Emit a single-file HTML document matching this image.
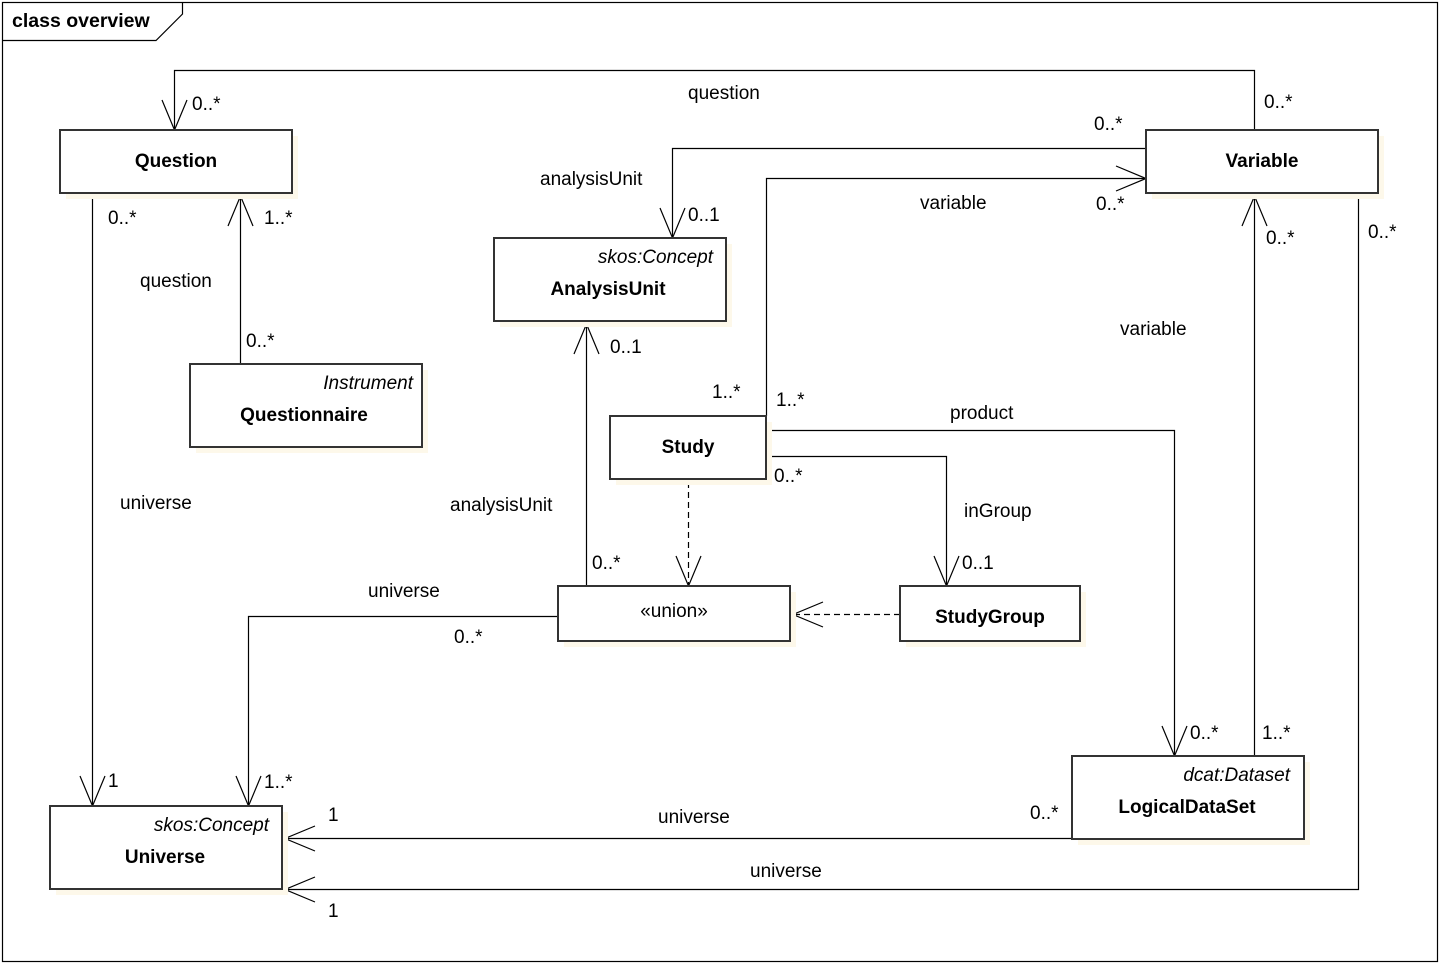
<!DOCTYPE html>
<html><head><meta charset="utf-8"><style>
html,body{margin:0;padding:0;background:#fff;}
svg{display:block;}
text{font-family:"Liberation Sans",Arial,sans-serif;font-size:19px;fill:#000;}
.b{font-weight:bold;}
.i{font-style:italic;}
.box{fill:#fff;stroke:#333;stroke-width:2;}
.sh{fill:#fdf8ea;}
.l{fill:none;stroke:#000;stroke-width:1.2;}
.d{fill:none;stroke:#000;stroke-width:1.2;stroke-dasharray:6,4;}
</style></head><body>
<svg width="1440" height="964" viewBox="0 0 1440 964">
<rect x="2.5" y="2.5" width="1435" height="959" fill="#fff" stroke="#000" stroke-width="1.2"/>
<path class="l" d="M2.5 40.5 H156 L182.5 14 V2.5"/>
<text x="12" y="27" class="b" style="font-size:19.5px">class overview</text>

<!-- connectors -->
<path class="l" d="M1254.5 130 V70.5 H174.5 V130"/>
<path class="l" d="M162 100 L174.5 130 L187 100"/>
<path class="l" d="M1146 148.5 H672.5 V238"/>
<path class="l" d="M660 208 L672.5 238 L685 208"/>
<path class="l" d="M766.5 416 V178.5 H1146"/>
<path class="l" d="M1116 166 L1146 178.5 L1116 191"/>
<path class="l" d="M92.5 193 V806"/>
<path class="l" d="M80 776 L92.5 806 L105 776"/>
<path class="l" d="M240.5 364 V196"/>
<path class="l" d="M228 226 L240.5 196 L253 226"/>
<path class="l" d="M586.5 586 V324"/>
<path class="l" d="M574 354 L586.5 324 L599 354"/>
<path class="l" d="M766 430.5 H1174.5 V756"/>
<path class="l" d="M1162 726 L1174.5 756 L1187 726"/>
<path class="l" d="M766 456.5 H946.5 V586"/>
<path class="l" d="M934 556 L946.5 586 L959 556"/>
<path class="d" d="M688.5 482 V586"/>
<path class="l" d="M676 556 L688.5 586 L701 556"/>
<path class="d" d="M900 614.5 H793"/>
<path class="l" d="M823 602 L793 614.5 L823 627"/>
<path class="l" d="M558 616.5 H248.5 V806"/>
<path class="l" d="M236 776 L248.5 806 L261 776"/>
<path class="l" d="M1254.5 756 V196"/>
<path class="l" d="M1242 226 L1254.5 196 L1267 226"/>
<path class="l" d="M1072 838.5 H285"/>
<path class="l" d="M315 826 L285 838.5 L315 851"/>
<path class="l" d="M1358.5 193 V889.5 H285"/>
<path class="l" d="M315 877 L285 889.5 L315 902"/>

<!-- boxes -->
<g>
<rect class="sh" x="66" y="136" width="232" height="63"/>
<rect class="box" x="60" y="130" width="232" height="63"/>
<text x="176" y="167" class="b" text-anchor="middle">Question</text>

<rect class="sh" x="1152" y="136" width="232" height="63"/>
<rect class="box" x="1146" y="130" width="232" height="63"/>
<text x="1262" y="167" class="b" text-anchor="middle">Variable</text>

<rect class="sh" x="500" y="244" width="232" height="83"/>
<rect class="box" x="494" y="238" width="232" height="83"/>
<text x="713" y="263" class="i" text-anchor="end">skos:Concept</text>
<text x="608" y="295" class="b" text-anchor="middle">AnalysisUnit</text>

<rect class="sh" x="196" y="370" width="232" height="83"/>
<rect class="box" x="190" y="364" width="232" height="83"/>
<text x="413" y="389" class="i" text-anchor="end">Instrument</text>
<text x="304" y="421" class="b" text-anchor="middle">Questionnaire</text>

<rect class="sh" x="616" y="422" width="156" height="63"/>
<rect class="box" x="610" y="416" width="156" height="63"/>
<text x="688" y="453" class="b" text-anchor="middle">Study</text>

<rect class="sh" x="564" y="592" width="232" height="55"/>
<rect class="box" x="558" y="586" width="232" height="55"/>
<text x="674" y="617" text-anchor="middle">«union»</text>

<rect class="sh" x="906" y="592" width="180" height="55"/>
<rect class="box" x="900" y="586" width="180" height="55"/>
<text x="990" y="623" class="b" text-anchor="middle">StudyGroup</text>

<rect class="sh" x="1078" y="762" width="232" height="83"/>
<rect class="box" x="1072" y="756" width="232" height="83"/>
<text x="1290" y="781" class="i" text-anchor="end">dcat:Dataset</text>
<text x="1187" y="813" class="b" text-anchor="middle">LogicalDataSet</text>

<rect class="sh" x="56" y="812" width="232" height="83"/>
<rect class="box" x="50" y="806" width="232" height="83"/>
<text x="269" y="831" class="i" text-anchor="end">skos:Concept</text>
<text x="165" y="863" class="b" text-anchor="middle">Universe</text>
</g>

<!-- labels -->
<text x="192" y="110">0..*</text>
<text x="688" y="99">question</text>
<text x="1264" y="108">0..*</text>
<text x="1094" y="130">0..*</text>
<text x="540" y="185">analysisUnit</text>
<text x="688" y="221">0..1</text>
<text x="920" y="209">variable</text>
<text x="1096" y="210">0..*</text>
<text x="108" y="224">0..*</text>
<text x="264" y="224">1..*</text>
<text x="1266" y="244">0..*</text>
<text x="1368" y="238">0..*</text>
<text x="140" y="287">question</text>
<text x="246" y="347">0..*</text>
<text x="610" y="353">0..1</text>
<text x="1120" y="335">variable</text>
<text x="712" y="398">1..*</text>
<text x="776" y="406">1..*</text>
<text x="950" y="419">product</text>
<text x="774" y="482">0..*</text>
<text x="120" y="509">universe</text>
<text x="450" y="511">analysisUnit</text>
<text x="964" y="517">inGroup</text>
<text x="592" y="569">0..*</text>
<text x="962" y="569">0..1</text>
<text x="368" y="597">universe</text>
<text x="454" y="643">0..*</text>
<text x="1190" y="739">0..*</text>
<text x="1262" y="739">1..*</text>
<text x="108" y="787">1</text>
<text x="264" y="788">1..*</text>
<text x="328" y="821">1</text>
<text x="658" y="823">universe</text>
<text x="1030" y="819">0..*</text>
<text x="750" y="877">universe</text>
<text x="328" y="917">1</text>
</svg>
</body></html>
